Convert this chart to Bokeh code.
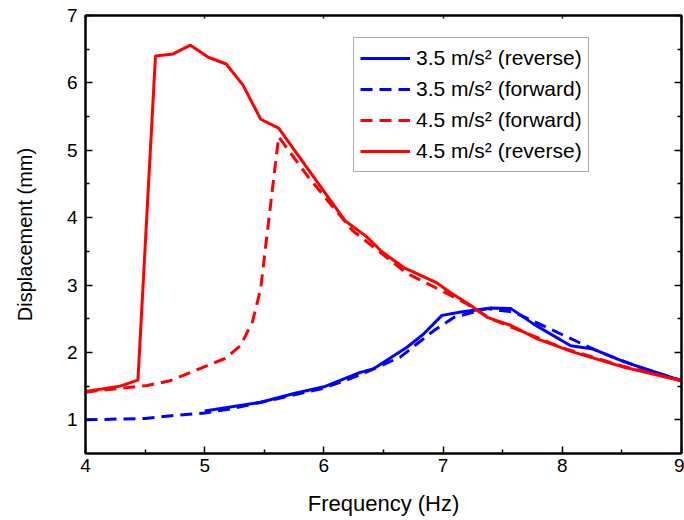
from bokeh.plotting import figure
from bokeh.models import LinearAxis, Range1d, Legend, LegendItem, FixedTicker
from bokeh.embed import file_html
from bokeh.resources import INLINE

# ---- data ----
freq_35_rev = [5.0, 5.47, 5.75, 6.0, 6.2, 6.3, 6.42, 6.7, 6.84, 6.99, 7.15, 7.40, 7.57, 7.76, 8.07, 8.26, 8.52, 9.0]
disp_35_rev = [1.13, 1.26, 1.39, 1.49, 1.63, 1.70, 1.76, 2.08, 2.28, 2.55, 2.60, 2.66, 2.65, 2.42, 2.10, 2.05, 1.86, 1.58]

freq_35_fwd = [4.0, 4.5, 4.72, 5.0, 5.24, 5.6, 6.0, 6.22, 6.36, 6.64, 6.92, 7.09, 7.37, 7.59, 7.87, 8.04, 8.32, 8.65, 9.0]
disp_35_fwd = [1.0, 1.02, 1.06, 1.10, 1.17, 1.31, 1.47, 1.61, 1.71, 1.93, 2.32, 2.52, 2.65, 2.60, 2.37, 2.23, 2.0, 1.78, 1.58]

freq_45_fwd = [4.0, 4.52, 4.71, 4.96, 5.17, 5.30, 5.40, 5.47, 5.62, 5.87, 6.24, 6.49, 6.70, 6.96, 7.20, 7.40, 7.65, 8.0, 8.5, 9.0]
disp_45_fwd = [1.41, 1.51, 1.58, 1.76, 1.91, 2.10, 2.45, 2.95, 5.20, 4.60, 3.81, 3.46, 3.17, 2.94, 2.72, 2.50, 2.32, 2.07, 1.80, 1.58]

freq_45_rev = [4.0, 4.29, 4.44, 4.587, 4.735, 4.88, 5.03, 5.18, 5.32, 5.47, 5.62, 6.18, 6.35, 6.49, 6.67, 6.94, 7.06, 7.23, 7.37, 7.57, 7.79, 8.10, 8.52, 9.0]
disp_45_rev = [1.42, 1.50, 1.59, 6.40, 6.43, 6.56, 6.38, 6.28, 5.97, 5.46, 5.33, 3.95, 3.73, 3.49, 3.26, 3.04, 2.89, 2.70, 2.52, 2.40, 2.20, 2.00, 1.78, 1.58]

labels = ["3.5 m/s\u00b2 (reverse)", "3.5 m/s\u00b2 (forward)", "4.5 m/s\u00b2 (forward)", "4.5 m/s\u00b2 (reverse)"]
x_ticks = [4, 5, 6, 7, 8, 9]
x_minor = [4.5, 5.5, 6.5, 7.5, 8.5]
y_ticks = [1, 2, 3, 4, 5, 6, 7]
y_minor = [1.5, 2.5, 3.5, 4.5, 5.5, 6.5]

FONT = "Liberation Sans"

p = figure(width=684, height=520, output_backend="svg", toolbar_location=None,
           x_range=Range1d(4, 9), y_range=Range1d(0.5, 7),
           x_axis_label="Frequency (Hz)", y_axis_label="Displacement (mm)",
           min_border_left=85, min_border_right=3, min_border_top=15, min_border_bottom=67)
p.grid.visible = False
p.outline_line_color = "black"
p.outline_line_width = 2
p.background_fill_color = "white"
p.border_fill_color = "white"

def style_axis(ax):
    ax.axis_line_width = 2
    ax.axis_line_color = "black"
    ax.major_tick_in = 7
    ax.major_tick_out = 0
    ax.minor_tick_in = 4
    ax.minor_tick_out = 0
    ax.major_tick_line_width = 1.5
    ax.minor_tick_line_width = 1.5
    ax.major_tick_line_color = "black"
    ax.minor_tick_line_color = "black"
    ax.major_label_text_font = FONT
    ax.major_label_text_font_size = "19px"
    ax.major_label_text_color = "black"
    ax.axis_label_text_font = FONT
    ax.axis_label_text_font_size = "21px"
    ax.axis_label_text_font_style = "normal"
    ax.axis_label_text_color = "black"

style_axis(p.xaxis[0])
style_axis(p.yaxis[0])
p.xaxis[0].ticker = FixedTicker(ticks=x_ticks, minor_ticks=x_minor)
p.yaxis[0].ticker = FixedTicker(ticks=y_ticks, minor_ticks=y_minor)
p.xaxis[0].axis_label_text_font_size = "22px"
p.yaxis[0].axis_label_text_font_size = "20px"
p.xaxis[0].major_label_standoff = 5
p.xaxis[0].axis_label_standoff = 16
p.yaxis[0].major_label_standoff = 8
p.yaxis[0].axis_label_standoff = 28

top = LinearAxis(ticker=FixedTicker(ticks=x_ticks, minor_ticks=x_minor))
style_axis(top)
top.major_tick_in = 3
top.minor_tick_in = 0
top.major_label_standoff = 0
top.major_label_overrides = {t: "" for t in x_ticks}
p.add_layout(top, "above")

right = LinearAxis(ticker=FixedTicker(ticks=y_ticks, minor_ticks=y_minor))
style_axis(right)
right.major_label_standoff = 0
right.major_label_overrides = {t: "" for t in y_ticks}
p.add_layout(right, "right")

W = 3
r1 = p.line(freq_35_rev, disp_35_rev, line_color="#0000ff", line_width=W)
r2 = p.line(freq_35_fwd, disp_35_fwd, line_color="#0000ff", line_width=W, line_dash="12 7")
r3 = p.line(freq_45_fwd, disp_45_fwd, line_color="#ff0000", line_width=W, line_dash="12 7")
r4 = p.line(freq_45_rev, disp_45_rev, line_color="#ff0000", line_width=W)

legend = Legend(items=[LegendItem(label=labels[0], renderers=[r1]),
                       LegendItem(label=labels[1], renderers=[r2]),
                       LegendItem(label=labels[2], renderers=[r3]),
                       LegendItem(label=labels[3], renderers=[r4])],
                location=(268, 281))
legend.label_text_font = FONT
legend.label_text_font_size = "21px"
legend.label_text_color = "black"
legend.glyph_width = 50
legend.glyph_height = 28
legend.spacing = 3
legend.padding = 6
legend.margin = 0
legend.label_standoff = 6
legend.border_line_color = "#555555"
legend.border_line_width = 1.5
legend.background_fill_alpha = 1
p.add_layout(legend, "center")

open("out.html", "w").write(file_html(p, INLINE))
